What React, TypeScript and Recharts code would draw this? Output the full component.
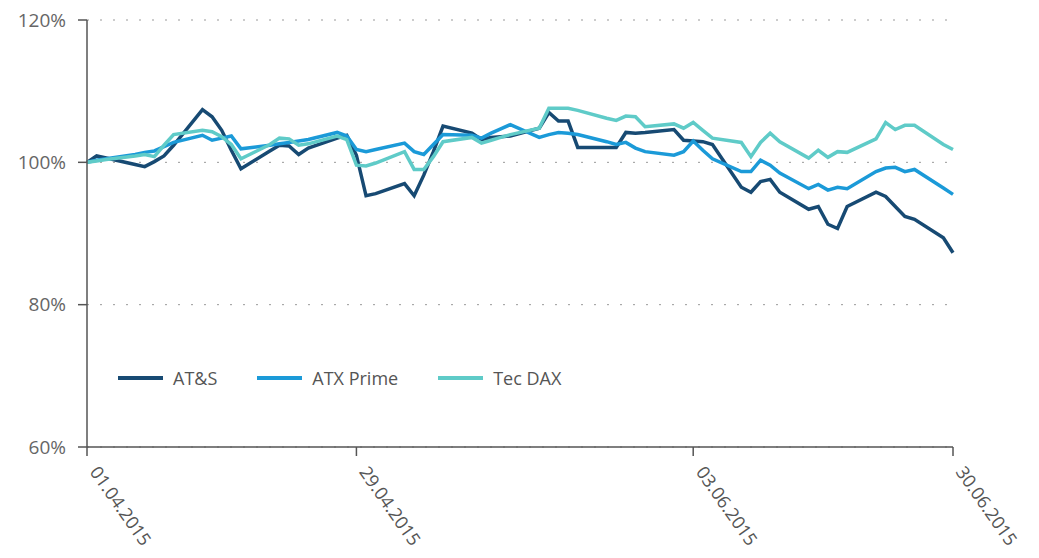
import {
  LineChart,
  Line,
  XAxis,
  YAxis,
  CartesianGrid,
} from "recharts";

// calendar day offset from 01.04.2015
const days = [
  0, 1, 2, 5, 6, 7, 8, 9, 12, 13, 14, 15, 16, 19, 20, 21, 22, 23, 26, 27, 28,
  29, 30, 33, 34, 35, 36, 37, 40, 41, 42, 43, 44, 47, 48, 49, 50, 51, 54, 55,
  56, 57, 58, 61, 62, 63, 64, 65, 68, 69, 70, 71, 72, 75, 76, 77, 78, 79, 82,
  83, 84, 85, 86, 89, 90,
];

const ats = [
  100, 100.9, 100.6, 99.7, 99.4, 100.1, 100.9, 102.4, 107.4, 106.4, 104.5,
  101.7, 99.1, 101.6, 102.4, 102.3, 101.1, 102.0, 103.4, 103.8, 101, 95.3,
  95.6, 97, 95.3, 98.2, 101.5, 105.1, 104.1, 103.2, 103.5, 103.6, 103.7, 104.8,
  107, 105.8, 105.8, 102.1, 102.1, 102.1, 104.2, 104.1, 104.2, 104.6, 103.1,
  103, 102.9, 102.5, 96.5, 95.8, 97.3, 97.6, 95.8, 93.4, 93.8, 91.3, 90.7,
  93.8, 95.8, 95.2, 93.8, 92.4, 92.0, 89.4, 87.3,
];

const atxPrime = [
  100, 100.3, 100.5, 101.1, 101.4, 101.6, 102.2, 102.8, 103.8, 103.1, 103.4,
  103.7, 101.9, 102.4, 102.6, 102.8, 103.0, 103.2, 104.2, 103.7, 101.8, 101.5,
  101.8, 102.7, 101.5, 101.1, 102.5, 103.9, 103.8, 103.4, 104.1, 104.7, 105.3,
  103.5, 103.9, 104.2, 104.1, 103.9, 102.9, 102.5, 102.8, 102.0, 101.5, 101.0,
  101.5, 103, 101.7, 100.5, 98.7, 98.7, 100.3, 99.6, 98.5, 96.3, 96.9, 96.1,
  96.5, 96.3, 98.7, 99.2, 99.3, 98.7, 99.0, 96.4, 95.5,
];

const tecDax = [
  100, 100.2, 100.4, 100.9, 101.1, 100.8, 102.4, 103.9, 104.5, 104.3, 103.6,
  102.5, 100.5, 102.5, 103.4, 103.3, 102.4, 102.6, 103.7, 103.2, 99.6, 99.5,
  99.9, 101.5, 99, 99, 100.8, 102.9, 103.5, 102.7, 103.1, 103.5, 103.9, 104.8,
  107.6, 107.6, 107.6, 107.3, 106.2, 105.9, 106.5, 106.4, 105.0, 105.4, 104.8,
  105.6, 104.5, 103.4, 102.8, 100.8, 102.8, 104.1, 102.9, 100.6, 101.7, 100.7,
  101.5, 101.4, 103.3, 105.6, 104.6, 105.2, 105.2, 102.5, 101.8,
];

const xTicks = [0, 28, 63, 90];
const xLabels: Record<number, string> = {
  0: "01.04.2015",
  28: "29.04.2015",
  63: "03.06.2015",
  90: "30.06.2015",
};
const yTicks = [60, 80, 100, 120];

const series = [
  { key: "ats", name: "AT&S", color: "#174a73" },
  { key: "atx", name: "ATX Prime", color: "#1b9ad8" },
  { key: "tec", name: "Tec DAX", color: "#5fcbc8" },
];

const data = days.map((d, i) => ({
  day: d,
  ats: ats[i],
  atx: atxPrime[i],
  tec: tecDax[i],
}));

const FONT = "'Open Sans', sans-serif";

const DateTick = (props: any) => {
  const { x, y, payload } = props;
  return (
    <text
      x={0}
      y={0}
      transform={`translate(${x + 2},${y + 14}) rotate(55)`}
      textAnchor="start"
      fontSize={18}
      fill="#555"
      fontFamily={FONT}
    >
      {xLabels[payload.value]}
    </text>
  );
};

const App = () => {
  return (
    <div style={{ position: "absolute", left: 0, top: 0, background: "#fff" }}>
      <LineChart
        width={1039}
        height={558}
        data={data}
        margin={{ top: 20, right: 86, bottom: 0, left: 0 }}
      >
        <CartesianGrid
          horizontal
          vertical={false}
          stroke="#999"
          strokeDasharray="2 11"
        />
        <XAxis
          dataKey="day"
          type="number"
          domain={[0, 90]}
          ticks={xTicks}
          interval={0}
          height={111}
          tick={<DateTick />}
          tickSize={9}
          stroke="#555"
          strokeWidth={1.5}
        />
        <YAxis
          domain={[60, 120]}
          ticks={yTicks}
          width={87}
          tickSize={9}
          tickMargin={12}
          tickFormatter={(v) => `${v}%`}
          tick={{ fill: "#666", fontSize: 19, fontFamily: FONT }}
          stroke="#555"
          strokeWidth={1.5}
        />
        {series.map((s) => (
          <Line
            key={s.key}
            dataKey={s.key}
            name={s.name}
            stroke={s.color}
            strokeWidth={3.5}
            dot={false}
            isAnimationActive={false}
          />
        ))}
      </LineChart>
      <div
        style={{
          position: "absolute",
          left: 118,
          top: 366,
          display: "flex",
          alignItems: "center",
          fontFamily: FONT,
        }}
      >
        {series.map((s) => (
          <div
            key={s.key}
            style={{ display: "flex", alignItems: "center", marginRight: 40 }}
          >
            <div
              style={{
                width: 45,
                height: 4,
                background: s.color,
                marginRight: 10,
              }}
            />
            <span style={{ fontSize: 18, color: "#555" }}>{s.name}</span>
          </div>
        ))}
      </div>
    </div>
  );
};

export default App;
